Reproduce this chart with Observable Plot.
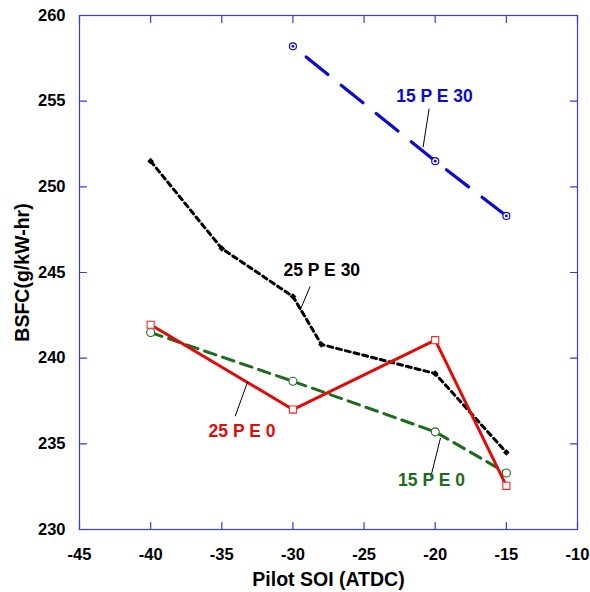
<!DOCTYPE html>
<html><head><meta charset="utf-8">
<script src="https://cdn.jsdelivr.net/npm/d3@7"></script>
<script src="https://cdn.jsdelivr.net/npm/@observablehq/plot@0.6"></script>
<style>
body{margin:0;background:#fff}
#chart svg g[aria-label$="tick label"], #chart svg g[aria-label$="tick label"] text { font-size: 16.5px !important; font-weight: bold !important; fill: #000; }
#chart svg g[aria-label="x-axis label"], #chart svg g[aria-label="y-axis label"],
#chart svg g[aria-label="x-axis label"] text, #chart svg g[aria-label="y-axis label"] text { font-size: 19.5px !important; font-weight: bold !important; fill: #000; }
</style>
</head><body><div id="chart"></div>
<script>
// ---- data ----
const soi15pe30 = [-30, -20, -15];
const bsfc15pe30 = [258.2, 251.5, 248.3];
const soi25pe30 = [-40, -35, -30, -28, -20, -15];
const bsfc25pe30 = [251.5, 246.4, 243.6, 240.8, 239.1, 234.5];
const soi25pe0 = [-40, -30, -20, -15];
const bsfc25pe0 = [241.95, 237.0, 241.05, 232.55];
const soi15pe0 = [-40, -30, -20, -15];
const bsfc15pe0 = [241.5, 238.65, 235.7, 233.3];

const xTicks = [-45, -40, -35, -30, -25, -20, -15, -10];
const yTicks = [230, 235, 240, 245, 250, 255, 260];

const labelText = ["15 P E 30", "25 P E 30", "25 P E 0", "15 P E 0"];
const labelX = [-20.05, -27.97, -33.58, -20.26];
const labelY = [254.94, 244.78, 235.4, 232.53];
const leadX1 = [-20.43, -28.79, -34.06, -20.31];
const leadY1 = [254.56, 244.19, 236.61, 233.07];
const leadX2 = [-20.85, -29.5, -33.19, -19.63];
const leadY2 = [252.32, 242.79, 238.61, 235.34];

// ---- colours ----
const axisBlue = "#3a3ad6";
const cBlue = "#0a0ad0";
const cBlack = "#000000";
const cRed = "#e00b0b";
const cGreen = "#1e6b1e";
const labelColors = [cBlue, cBlack, cRed, cGreen];

const zip = (xs, ys) => xs.map((x, i) => ({x, y: ys[i]}));
const s15pe30 = zip(soi15pe30, bsfc15pe30);
const s25pe30 = zip(soi25pe30, bsfc25pe30);
const s25pe0 = zip(soi25pe0, bsfc25pe0);
const s15pe0 = zip(soi15pe0, bsfc15pe0);
const labels = labelText.map((t, i) => ({t, x: labelX[i], y: labelY[i], c: labelColors[i],
  x1: leadX1[i], y1: leadY1[i], x2: leadX2[i], y2: leadY2[i]}));

const tickShape = {draw(context, l) { context.moveTo(0, 0); context.lineTo(0, -l); }};
const tickLen = 7;

const chart = Plot.plot({
  width: 590,
  height: 592,
  marginLeft: 79,
  marginRight: 13,
  marginTop: 15,
  marginBottom: 63,
  style: {fontFamily: "'Liberation Sans', Arial, sans-serif", fontWeight: "bold", fontSize: "16px", color: "#000", background: "#fff"},
  x: {domain: [-45, -10]},
  y: {domain: [230, 260]},
  marks: [
    Plot.frame({stroke: axisBlue, strokeWidth: 1.2}),
    Plot.vectorX(xTicks, {x: d => d, frameAnchor: "bottom", length: tickLen, rotate: 0, anchor: "start", shape: tickShape, stroke: axisBlue, strokeWidth: 1.2}),
    Plot.vectorX(xTicks, {x: d => d, frameAnchor: "top", length: tickLen, rotate: 180, anchor: "start", shape: tickShape, stroke: axisBlue, strokeWidth: 1.2}),
    Plot.vectorY(yTicks, {y: d => d, frameAnchor: "left", length: tickLen, rotate: 90, anchor: "start", shape: tickShape, stroke: axisBlue, strokeWidth: 1.2}),
    Plot.vectorY(yTicks, {y: d => d, frameAnchor: "right", length: tickLen, rotate: -90, anchor: "start", shape: tickShape, stroke: axisBlue, strokeWidth: 1.2}),
    Plot.axisX({ticks: xTicks, tickSize: 0, tickPadding: 19, tickFormat: d => String(d), fontSize: 16.5, fontWeight: "bold", fill: "#000",
      label: "Pilot SOI (ATDC)", labelAnchor: "center", labelArrow: "none", labelOffset: 56}),
    Plot.axisY({ticks: yTicks, tickSize: 0, tickPadding: 14, tickFormat: d => String(d), fontSize: 16.5, fontWeight: "bold", fill: "#000",
      label: "BSFC(g/kW-hr)", labelAnchor: "center", labelArrow: "none", labelOffset: 64}),
    Plot.line(s15pe30, {x: "x", y: "y", stroke: cBlue, strokeWidth: 3.2, strokeDasharray: "28,17", strokeDashoffset: 28}),
    Plot.line(s25pe30, {x: "x", y: "y", stroke: cBlack, strokeWidth: 3, strokeDasharray: "5,4"}),
    Plot.line(s15pe0, {x: "x", y: "y", stroke: cGreen, strokeWidth: 3, strokeDasharray: "12,7"}),
    Plot.line(s25pe0, {x: "x", y: "y", stroke: cRed, strokeWidth: 3}),
    Plot.dot(s15pe30, {x: "x", y: "y", r: 3.5, stroke: cBlue, fill: "white", strokeWidth: 1.2}),
    Plot.dot(s15pe30, {x: "x", y: "y", r: 1.4, fill: cBlue}),
    Plot.dot(s25pe30, {x: "x", y: "y", symbol: "diamond2", r: 3, fill: cBlack}),
    Plot.dot(s15pe0, {x: "x", y: "y", r: 4, stroke: cGreen, fill: "white", strokeWidth: 1.1}),
    Plot.dot(s25pe0, {x: "x", y: "y", symbol: "square", r: 4, stroke: "#ee2a2a", fill: "white", strokeWidth: 1.1}),
    Plot.link(labels, {x1: "x1", y1: "y1", x2: "x2", y2: "y2", stroke: "#000", strokeWidth: 1}),
    Plot.text(labels, {x: "x", y: "y", text: "t", fill: "c", lineAnchor: "bottom", textAnchor: "middle", fontSize: 17.5, fontWeight: "bold"})
  ]
});
document.getElementById("chart").appendChild(chart);
</script>
</body></html>
